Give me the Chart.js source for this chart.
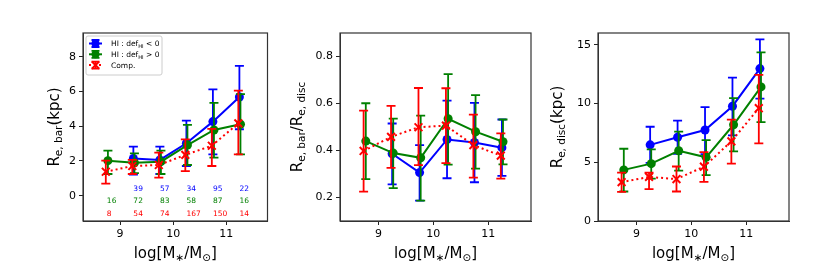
<!DOCTYPE html>
<html><head><meta charset="utf-8">
<script src="https://cdn.jsdelivr.net/npm/chart.js@4.4.0/dist/chart.umd.min.js"></script>
<style>
html,body{margin:0;padding:0;background:#fff;width:830px;height:277px;overflow:hidden;position:relative}
canvas{position:absolute;top:0}
</style></head>
<body>
<canvas id="c1" width="275" height="277" style="left:0px"></canvas>
<canvas id="c2" width="270" height="277" style="left:275px"></canvas>
<canvas id="c3" width="285" height="277" style="left:545px"></canvas>
<script>
// ---------- data ----------
const binCenters = [8.75, 9.25, 9.75, 10.25, 10.75, 11.25];
const xTickValues = [9, 10, 11];

// Panel 1: R_e,bar (kpc)
const barNeg    = [null, 2.15, 2.06, 3.02, 4.27, 5.69];
const barNegLo  = [null, 1.22, 1.25, 1.71, 2.38, 3.83];
const barNegHi  = [null, 2.83, 2.83, 4.33, 6.13, 7.48];
const barPos    = [2.02, 1.90, 1.96, 2.92, 3.79, 4.12];
const barPosLo  = [1.25, 1.30, 1.25, 1.77, 2.19, 2.38];
const barPosHi  = [2.60, 2.44, 2.60, 4.08, 5.35, 5.85];
const barComp   = [1.38, 1.71, 1.77, 2.35, 2.88, 4.17];
const barCompLo = [0.69, 1.25, 1.04, 1.42, 1.71, 2.38];
const barCompHi = [2.02, 2.06, 2.48, 3.25, 3.85, 6.06];
const yTicksBar = [0, 2, 4, 6, 8];

// Panel 2: R_e,bar / R_e,disc
const ratioNeg    = [null, 0.386, 0.306, 0.447, 0.434, 0.412];
const ratioNegLo  = [null, 0.256, 0.187, 0.282, 0.265, 0.292];
const ratioNegHi  = [null, 0.515, 0.423, 0.612, 0.603, 0.532];
const ratioPos    = [0.440, 0.389, 0.369, 0.535, 0.480, 0.437];
const ratioPosLo  = [0.278, 0.240, 0.187, 0.340, 0.323, 0.341];
const ratioPosHi  = [0.601, 0.536, 0.548, 0.725, 0.636, 0.532];
const ratioComp   = [0.398, 0.458, 0.499, 0.506, 0.423, 0.378];
const ratioCompLo = [0.225, 0.326, 0.338, 0.346, 0.285, 0.280];
const ratioCompHi = [0.570, 0.590, 0.666, 0.665, 0.553, 0.473];
const yTicksRatio = [0.2, 0.4, 0.6, 0.8];

// Panel 3: R_e,disc (kpc)
const discNeg    = [null, 6.48, 7.13, 7.74, 9.77, 12.97];
const discNegLo  = [null, 4.95, 5.71, 5.70, 7.29, 10.42];
const discNegHi  = [null, 8.02, 8.55, 9.69, 12.20, 15.45];
const discPos    = [4.35, 4.88, 5.98, 5.42, 8.19, 11.41];
const discPosLo  = [2.51, 3.60, 4.29, 3.90, 5.93, 8.42];
const discPosHi  = [6.15, 6.10, 7.60, 6.89, 10.45, 14.35];
const discComp   = [3.31, 3.75, 3.57, 4.62, 6.78, 9.60];
const discCompLo = [2.48, 2.71, 2.51, 3.33, 4.89, 6.61];
const discCompHi = [4.12, 4.12, 4.64, 5.86, 8.62, 12.43];
const yTicksDisc = [0, 5, 10, 15];

// sample sizes per bin
const nNeg  = ['', '39', '57', '34', '95', '22'];
const nPos  = ['16', '72', '83', '58', '87', '16'];
const nComp = ['8', '54', '74', '167', '150', '14'];

// ---------- styling ----------
const FONT = '"DejaVu Sans", sans-serif';
const BLUE = '#0000ff', GREEN = '#008000', RED = '#ff0000';
const series = [
  {key: 'neg',  color: BLUE,  dx: 0.0,   dotted: false, style: 'circle'},
  {key: 'pos',  color: GREEN, dx: 0.02,  dotted: false, style: 'circle'},
  {key: 'comp', color: RED,   dx: -0.02, dotted: true,  style: 'crossRot'}
];

function richWidth(ctx, parts, fs) {
  let w = 0;
  for (const p of parts) {
    ctx.font = (p.sub ? fs * 0.7 : fs) + 'px ' + FONT;
    w += ctx.measureText(p.t).width;
  }
  return w;
}
function drawRich(ctx, parts, x, y, fs, color, align) {
  const w = richWidth(ctx, parts, fs);
  let cx = align === 'left' ? x : x - w / 2;
  ctx.fillStyle = color;
  ctx.textBaseline = 'alphabetic';
  ctx.textAlign = 'left';
  for (const p of parts) {
    const f = p.sub ? fs * 0.7 : fs;
    ctx.font = f + 'px ' + FONT;
    ctx.fillText(p.t, cx, y + (p.sub ? fs * 0.22 : 0));
    cx += ctx.measureText(p.t).width;
  }
}

function drawMarker(ctx, style, x, y, r, color) {
  ctx.save();
  ctx.fillStyle = color; ctx.strokeStyle = color;
  if (style === 'circle') {
    ctx.beginPath(); ctx.arc(x, y, r, 0, Math.PI * 2); ctx.fill();
  } else {
    ctx.lineWidth = 2;
    ctx.beginPath();
    ctx.moveTo(x - r * 0.8, y - r * 0.8); ctx.lineTo(x + r * 0.8, y + r * 0.8);
    ctx.moveTo(x + r * 0.8, y - r * 0.8); ctx.lineTo(x - r * 0.8, y + r * 0.8);
    ctx.stroke();
  }
  ctx.restore();
}

const xLabelParts = [{t: 'log[M'}, {t: '∗', sub: true}, {t: '/M'}, {t: '⊙', sub: true}, {t: ']'}];

const figPlugin = {
  id: 'fig',
  beforeDatasetDraw(chart, args) {
    const ds = chart.data.datasets[args.index];
    const ctx = chart.ctx, ys = chart.scales.y;
    ctx.save();
    ctx.strokeStyle = ds.borderColor;
    ctx.lineWidth = 1.8;
    ctx.setLineDash([]);
    args.meta.data.forEach((pt, j) => {
      const lo = ds.errLo[j], hi = ds.errHi[j];
      const y1 = ys.getPixelForValue(lo), y2 = ys.getPixelForValue(hi);
      const x = pt.x, cap = 4.5;
      ctx.beginPath();
      ctx.moveTo(x, y1); ctx.lineTo(x, y2);
      ctx.moveTo(x - cap, y1); ctx.lineTo(x + cap, y1);
      ctx.moveTo(x - cap, y2); ctx.lineTo(x + cap, y2);
      ctx.stroke();
    });
    ctx.restore();
  },
  afterDraw(chart) {
    const o = chart.options.plugins.fig;
    const ctx = chart.ctx, a = chart.chartArea;
    ctx.save();
    // frame
    ctx.strokeStyle = '#333333'; ctx.lineWidth = 1.2;
    ctx.strokeRect(a.left, a.top, a.right - a.left, a.bottom - a.top);
    // x label
    drawRich(ctx, xLabelParts, (a.left + a.right) / 2, 258, 15, '#000', 'center');
    // y label (rotated)
    ctx.save();
    ctx.translate(o.yLabelX, (a.top + a.bottom) / 2);
    ctx.rotate(-Math.PI / 2);
    drawRich(ctx, o.yLabel, 0, 0, 15, '#000', 'center');
    ctx.restore();
    // counts
    if (o.counts) {
      const xs = chart.scales.x, ys = chart.scales.y;
      ctx.font = '7.5px ' + FONT; ctx.textAlign = 'left'; ctx.textBaseline = 'middle';
      o.counts.forEach(row => {
        ctx.fillStyle = row.color;
        row.vals.forEach((t, j) => {
          if (t) ctx.fillText(t, xs.getPixelForValue(binCenters[j]), ys.getPixelForValue(row.y));
        });
      });
    }
    // legend
    if (o.legend) {
      const lx = a.left + 3, ly = a.top + 3, lw = 76, lh = 39;
      ctx.fillStyle = 'rgba(255,255,255,0.85)';
      ctx.strokeStyle = '#cccccc'; ctx.lineWidth = 1;
      ctx.beginPath();
      if (ctx.roundRect) ctx.roundRect(lx, ly, lw, lh, 2); else ctx.rect(lx, ly, lw, lh);
      ctx.fill(); ctx.stroke();
      const labels = [
        [{t: 'HI : def'}, {t: 'HI', sub: true}, {t: ' < 0'}],
        [{t: 'HI : def'}, {t: 'HI', sub: true}, {t: ' > 0'}],
        [{t: 'Comp.'}]
      ];
      series.forEach((s, i) => {
        const cy = ly + 7.5 + i * 10.8, x0 = lx + 3, x1 = lx + 16, xc = (x0 + x1) / 2;
        ctx.strokeStyle = s.color; ctx.lineWidth = 2;
        ctx.setLineDash(s.dotted ? [2, 3] : []);
        ctx.beginPath(); ctx.moveTo(x0, cy); ctx.lineTo(x1, cy); ctx.stroke();
        ctx.setLineDash([]); ctx.lineWidth = 1.8;
        ctx.beginPath();
        ctx.moveTo(xc, cy - 3.5); ctx.lineTo(xc, cy + 3.5);
        ctx.moveTo(xc - 4, cy - 3.5); ctx.lineTo(xc + 4, cy - 3.5);
        ctx.moveTo(xc - 4, cy + 3.5); ctx.lineTo(xc + 4, cy + 3.5);
        ctx.stroke();
        drawMarker(ctx, s.style, xc, cy, s.style === 'circle' ? 4 : 4.5, s.color);
        drawRich(ctx, labels[i], lx + 25, cy + 2.8, 7.5, '#000', 'left');
      });
    }
    ctx.restore();
  }
};

function makeDatasets(vals, los, his) {
  return series.map((s, k) => {
    const pts = [], lo = [], hi = [];
    vals[k].forEach((v, j) => {
      if (v === null) return;
      pts.push({x: binCenters[j] + s.dx, y: v});
      lo.push(los[k][j]); hi.push(his[k][j]);
    });
    return {
      label: s.key, data: pts, errLo: lo, errHi: hi,
      borderColor: s.color, backgroundColor: s.color,
      borderWidth: 2, borderDash: s.dotted ? [2, 3] : [],
      showLine: true, pointStyle: s.style,
      pointRadius: s.style === 'circle' ? 4.5 : 5.5,
      pointBorderWidth: s.style === 'circle' ? 0 : 2,
      pointBackgroundColor: s.color, pointBorderColor: s.color,
      order: 3 - k, tension: 0
    };
  });
}

function makeChart(id, cfg) {
  const yVals = cfg.yTicks;
  return new Chart(document.getElementById(id), {
    type: 'scatter',
    data: {datasets: makeDatasets(cfg.vals, cfg.los, cfg.his)},
    options: {
      responsive: false, animation: false, devicePixelRatio: 1,
      layout: {padding: {top: 33, right: cfg.padR, left: 0, bottom: 0}},
      plugins: {legend: {display: false}, tooltip: {enabled: false},
        fig: {yLabel: cfg.yLabel, yLabelX: cfg.yLabelX, counts: cfg.counts, legend: cfg.legend}},
      scales: {
        x: {
          type: 'linear', min: 8.3, max: 11.78,
          afterBuildTicks: s => { s.ticks = xTickValues.map(v => ({value: v})); },
          afterFit: s => { s.height = 56; },
          grid: {display: true, drawOnChartArea: false, drawTicks: true, tickLength: 4, tickColor: '#222'},
          border: {display: true, color: '#333333', width: 1},
          ticks: {color: '#000', font: {size: 11, family: FONT}, padding: 3, maxRotation: 0,
                  callback: v => String(v)}
        },
        y: {
          type: 'linear', min: cfg.yMin, max: cfg.yMax,
          afterBuildTicks: s => { s.ticks = yVals.map(v => ({value: v})); },
          afterFit: s => { s.width = cfg.yAxisW; },
          grid: {display: true, drawOnChartArea: false, drawTicks: true, tickLength: 4, tickColor: '#222'},
          border: {display: true, color: '#333333', width: 1},
          ticks: {color: '#000', font: {size: 11, family: FONT}, padding: 3,
                  callback: v => cfg.fmt(v)}
        }
      }
    },
    plugins: [figPlugin]
  });
}

makeChart('c1', {
  vals: [barNeg, barPos, barComp], los: [barNegLo, barPosLo, barCompLo], his: [barNegHi, barPosHi, barCompHi],
  yTicks: yTicksBar, yMin: -1.46, yMax: 9.38, yAxisW: 83, padR: 1, fmt: v => String(v),
  yLabel: [{t: 'R'}, {t: 'e, bar', sub: true}, {t: '(kpc)'}], yLabelX: 59,
  counts: [{color: BLUE, vals: nNeg, y: 0.37}, {color: GREEN, vals: nPos, y: -0.33}, {color: RED, vals: nComp, y: -1.04}],
  legend: true
});
makeChart('c2', {
  vals: [ratioNeg, ratioPos, ratioComp], los: [ratioNegLo, ratioPosLo, ratioCompLo], his: [ratioNegHi, ratioPosHi, ratioCompHi],
  yTicks: yTicksRatio, yMin: 0.1, yMax: 0.9, yAxisW: 65, padR: 14, fmt: v => v.toFixed(1),
  yLabel: [{t: 'R'}, {t: 'e, bar', sub: true}, {t: '/R'}, {t: 'e, disc', sub: true}], yLabelX: 27
});
makeChart('c3', {
  vals: [discNeg, discPos, discComp], los: [discNegLo, discPosLo, discCompLo], his: [discNegHi, discPosHi, discCompHi],
  yTicks: yTicksDisc, yMin: 0, yMax: 16, yAxisW: 53, padR: 41, fmt: v => String(v),
  yLabel: [{t: 'R'}, {t: 'e, disc', sub: true}, {t: '(kpc)'}], yLabelX: 17
});
</script>
</body></html>
